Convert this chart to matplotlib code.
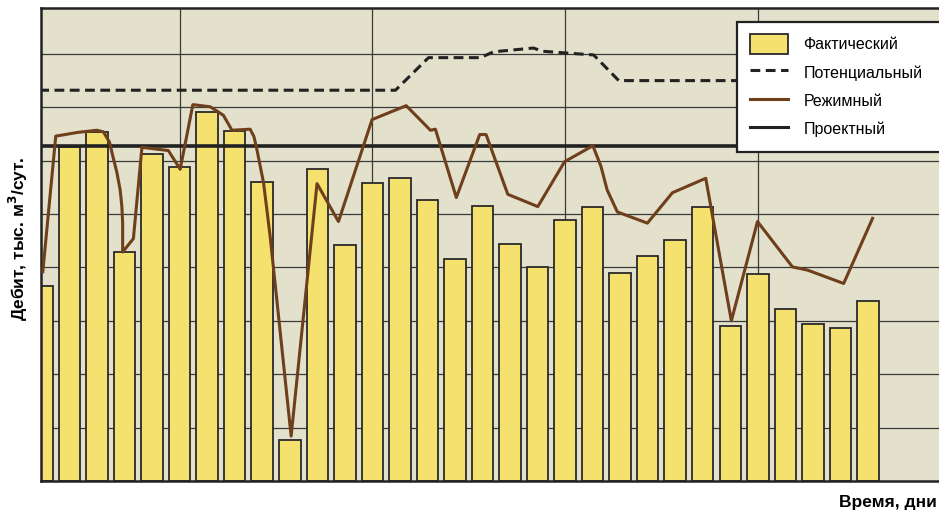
import matplotlib
matplotlib.use("Agg")
import matplotlib.pyplot as plt
from matplotlib.patches import Patch
from matplotlib.lines import Line2D
import numpy as np

# ---- data (arbitrary units, 1 unit = one grid step) ----
days = list(range(31))
actual = [3.65, 6.25, 6.53, 4.29, 6.12, 5.89, 6.92, 6.56, 5.60, 0.76,
          5.84, 4.42, 5.59, 5.68, 5.26, 4.16, 5.16, 4.44, 4.01, 4.88,
          5.13, 3.89, 4.21, 4.51, 5.14, 2.90, 3.87, 3.23, 2.95, 2.87, 3.37]

potential_x = [-0.1, 12.84, 14.04, 15.93, 16.40, 17.85, 18.18, 20.04, 20.95, 33.0]
potential_y = [7.32, 7.32, 7.93, 7.93, 8.04, 8.11, 8.05, 7.98, 7.50, 7.50]

regime_x = [0.03, 0.50, 1.30, 1.99, 2.23, 2.45, 2.58, 2.72, 2.84, 2.90, 2.93, 2.93,
            3.32, 3.63, 4.59, 5.02, 5.48, 6.11, 6.59, 6.90, 7.56, 7.70, 7.81, 8.05,
            8.29, 9.05, 9.99, 10.77, 11.99, 13.23, 14.11, 14.29, 15.05, 15.90, 16.13,
            16.92, 18.01, 18.98, 20.01, 20.30, 20.53, 20.90, 21.99, 22.90, 24.11,
            25.04, 25.99, 27.26, 27.81, 29.12, 30.17]
regime_y = [3.92, 6.46, 6.53, 6.57, 6.54, 6.35, 6.07, 5.78, 5.45, 5.15, 4.83, 4.29,
            4.54, 6.25, 6.19, 5.84, 7.05, 7.01, 6.85, 6.57, 6.59, 6.45, 6.20, 5.58,
            4.57, 0.84, 5.57, 4.86, 6.77, 7.03, 6.57, 6.59, 5.31, 6.49, 6.49,
            5.37, 5.14, 5.98, 6.28, 5.90, 5.45, 5.04, 4.83, 5.40, 5.67,
            3.00, 4.86, 4.01, 3.95, 3.70, 4.92]

project_level = 6.28

labels = ["Фактический", "Потенциальный", "Режимный", "Проектный"]
ylabel = "Дебит, тыс. м$^\\mathbf{3}$/сут."
xlabel = "Время, дни"

# ---- style ----
BG = "#e3e0cc"
BAR = "#f4e16e"
BROWN = "#6e3f1a"
DARK = "#222222"

W, H = 939, 518
fig = plt.figure(figsize=(W / 100, H / 100), dpi=100)
fig.patch.set_facecolor("white")
ax = fig.add_axes([41 / W, 1 - 481 / H, (W - 41) / W, (481 - 8) / H])
ax.set_facecolor(BG)

ax.set_xlim(-0.036, (W - 42) / 27.53)
ax.set_ylim(0, 8.86)

# grid
ax.set_xticks([5, 12, 19, 26])
ax.set_yticks(range(1, 9))
ax.grid(True, color="#3a3a3a", linewidth=0.9, zorder=0)
ax.set_axisbelow(True)
ax.tick_params(length=0, labelbottom=False, labelleft=False)

for s in ["left", "top", "bottom"]:
    ax.spines[s].set_linewidth(1.8)
    ax.spines[s].set_color(DARK)
ax.spines["right"].set_visible(False)

ax.bar(days, actual, width=0.78, color=BAR, edgecolor="#2a2a2a",
       linewidth=1.3, zorder=2)

ax.axhline(project_level, color=DARK, linewidth=2.6, zorder=3)
ax.plot(potential_x, potential_y, color=DARK, linewidth=2.2,
        dashes=(3.2, 1.8), zorder=3)
ax.plot(regime_x, regime_y, color=BROWN, linewidth=2.2, zorder=4,
        solid_joinstyle="round")

handles = [
    Patch(facecolor=BAR, edgecolor="#2a2a2a", linewidth=1.3),
    Line2D([], [], color=DARK, linewidth=2.2, dashes=(3.2, 1.8)),
    Line2D([], [], color=BROWN, linewidth=2.2),
    Line2D([], [], color=DARK, linewidth=2.2),
]
leg_font = {"family": ["Liberation Sans", "DejaVu Sans"], "size": 11.5}
leg = fig.legend(handles, labels, loc="upper left",
                 bbox_to_anchor=(737 / W, 1 - 150.7 / H, 240 / W, (150.7 - 21.7) / H),
                 mode="expand", prop=leg_font, frameon=True, fancybox=False,
                 borderpad=0.8, handlelength=2.4, handleheight=1.5,
                 handletextpad=0.95, labelspacing=0.55, borderaxespad=0)
leg.get_frame().set_edgecolor(DARK)
leg.get_frame().set_linewidth(1.6)
leg.get_frame().set_facecolor("white")
leg.get_frame().set_alpha(1)

lab_font = ["Liberation Sans", "DejaVu Sans"]
fig.text(18 / W, 1 - 239 / H, ylabel, rotation=90, ha="center", va="center",
         fontsize=12.5, fontweight="bold", family=lab_font)
fig.text(937 / W, 1 - 503 / H, xlabel, ha="right", va="center",
         fontsize=12.5, fontweight="bold", family=lab_font)

fig.savefig("out.png", dpi=100)
